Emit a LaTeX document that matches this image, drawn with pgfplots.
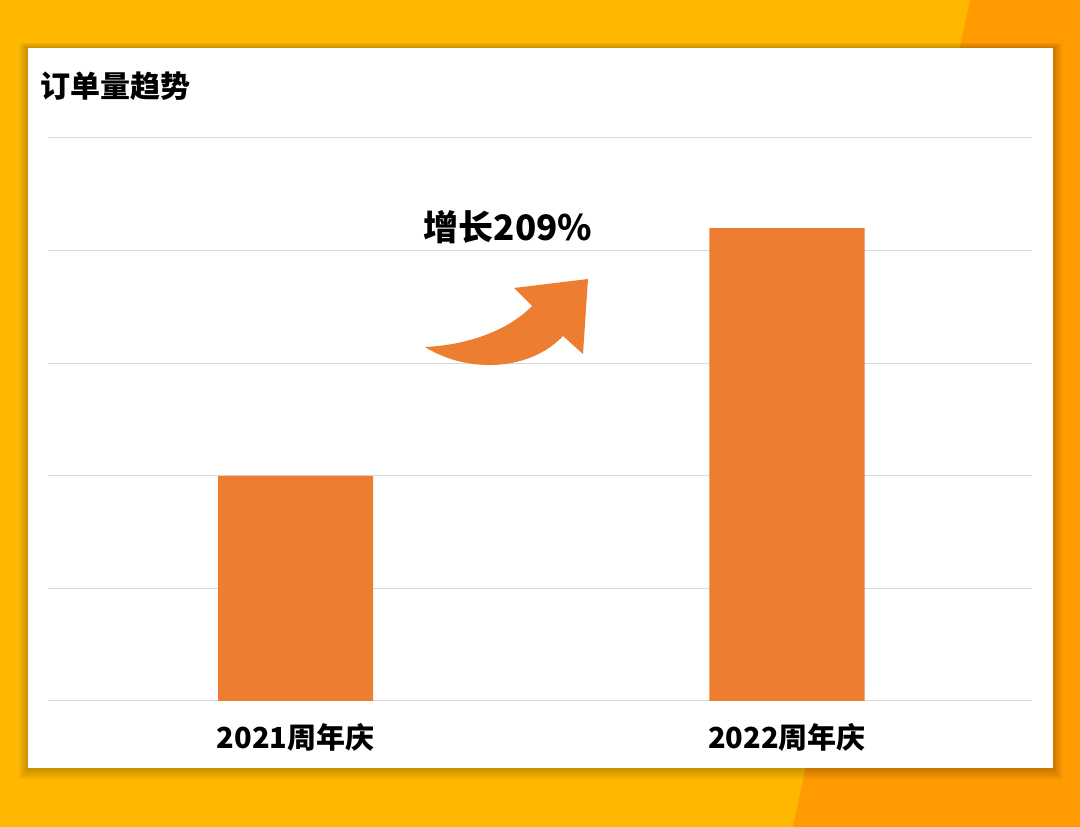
\documentclass[border=0pt]{standalone}
\usepackage{fontspec}
\setmainfont{Noto Sans CJK SC}
\usepackage{pgfplots}
\pgfplotsset{compat=1.18}
\definecolor{bgY}{HTML}{FFB800}
\definecolor{bgO}{HTML}{FF9A00}
\definecolor{barO}{HTML}{ED7D31}
\definecolor{gridG}{HTML}{D9D9D9}
\begin{document}
\begin{tikzpicture}[x=1pt,y=1pt]
\useasboundingbox (0,0) rectangle (1080,827);
\fill[bgY] (0,0) rectangle (1080,827);
\fill[bgO] (970,827) -- (1080,827) -- (1080,0) -- (793,0) -- cycle;
\foreach \i in {1,...,9} {
  \fill[black, opacity=0.025] (28-\i, 59-1.3*\i) rectangle (1053+\i, 779+0.6*\i);
}
\fill[white] (28,59) rectangle (1053,779);
\node[anchor=west, inner sep=0pt, font=\bfseries\fontsize{30}{36}\selectfont] at (40,741) {订单量趋势};
\begin{axis}[
  at={(48pt,126pt)}, anchor=south west,
  scale only axis, width=984pt, height=563pt,
  xmin=-0.5036, xmax=1.4985, ymin=0, ymax=5,
  axis line style={draw=none},
  major tick length=0pt,
  xtick={0,1}, xticklabels={2021周年庆,2022周年庆},
  xticklabel style={font=\bfseries\fontsize{29}{34}\selectfont, yshift=-19pt},
  ytick={0,1,2,3,4,5}, yticklabels={},
  ymajorgrids, grid style={color=gridG, line width=1pt},
  clip=false,
]
\addplot[ybar, bar width=155pt, bar shift=0pt, fill=barO, draw=none] coordinates {(0,2.0) (1,4.2)};
\end{axis}
\fill[barO] (425,480) .. controls (470,482) and (510,498) .. (532,521) -- (514,539) -- (588,548) -- (583,473) -- (563,491) .. controls (530,456) and (468,453) .. (425,480) -- cycle;
\node[font=\bfseries\fontsize{35}{40}\selectfont] at (508,600) {增长209\%};
\end{tikzpicture}
\end{document}
